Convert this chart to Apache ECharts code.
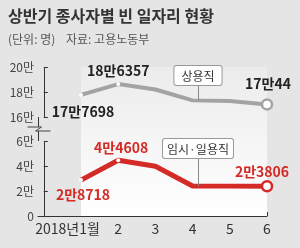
<!DOCTYPE html>
<html>
<head>
<meta charset="utf-8">
<script src="https://cdn.jsdelivr.net/npm/echarts@6/dist/echarts.min.js"></script>
<style>
  html, body { margin: 0; padding: 0; background: #e5e5e5; }
  #main { width: 300px; height: 248px; }
</style>
</head>
<body>
<div id="main"></div>
<script>
const months = [1, 2, 3, 4, 5, 6]
const monthLabels = ['2018년1월', '2', '3', '4', '5', '6']
// 상용직
const regular = [177698, 186357, 182000, 173300, 172800, 170044]
// 임시·일용직
const temporary = [28718, 44608, 39800, 24000, 23900, 23806]
const yTicks = [0, 20000, 40000, 60000, 160000, 180000, 200000]
const breakRange = [60000, 160000]

const GRAY = '#a3a3a3'
const RED = '#d42b27'
const NARROW = "'Liberation Sans Narrow', 'Noto Sans CJK KR', sans-serif"
const KR = "'Noto Sans CJK KR', sans-serif"

const fmtMan = v => (v === 0 ? '0' : v / 10000 + '만')

// labels: index -> offset from the point
const regularLabels = { 0: [2, 17], 1: [0, -13], 5: [1, -21] }
const temporaryLabels = { 0: [2, 15], 1: [3, -13], 5: [-5, -15] }

function buildData(values, color, labels) {
  return values.map((v, i) => {
    const item = { value: [months[i], v] }
    if (i === values.length - 1) {
      item.symbolSize = 10
      item.itemStyle = { color: '#fff', borderColor: color, borderWidth: 2.5 }
    } else if (i < 2) {
      item.symbolSize = 4
      item.itemStyle = { color: '#fff', borderWidth: 0 }
    } else {
      item.symbolSize = 0
    }
    if (labels[i]) {
      item.label = {
        show: true,
        position: 'inside',
        offset: labels[i],
        formatter: () => fmtMan(Math.floor(v / 10000) * 10000) + (v % 10000),
        color: color === RED ? RED : '#222',
        fontFamily: NARROW,
        fontWeight: 'bold',
        fontSize: 14
      }
    }
    return item
  })
}

const boxLabel = {
  show: true,
  position: 'end',
  distance: 0,
  color: '#333',
  fontSize: 12,
  fontFamily: KR,
  backgroundColor: '#fff',
  borderColor: '#999',
  borderWidth: 1,
  borderRadius: 2
}

const chart = echarts.init(document.getElementById('main'))
chart.setOption({
  backgroundColor: '#e5e5e5',
  animation: false,
  title: {
    text: '상반기 종사자별 빈 일자리 현황',
    subtext: '(단위: 명)    자료: 고용노동부',
    left: 8,
    top: 8,
    itemGap: 9,
    textStyle: { fontSize: 16, fontWeight: 'bold', color: '#333', fontFamily: KR },
    subtextStyle: { fontSize: 12, color: '#555', fontFamily: KR },
    padding: 0
  },
  grid: { left: 38, right: 33, top: 67, bottom: 32, outerBoundsMode: 'none' },
  xAxis: {
    type: 'value',
    min: -0.156,
    max: 6,
    splitLine: { show: false },
    axisLine: { lineStyle: { color: '#333', width: 1 } },
    axisTick: { inside: true, length: 4, customValues: months, lineStyle: { color: '#333' } },
    axisLabel: {
      customValues: months,
      margin: 6,
      color: '#333',
      fontSize: 14,
      fontFamily: NARROW,
      formatter: v => (v === 1 ? '{a|' + monthLabels[0] + '}{s|}' : monthLabels[v - 1]),
      rich: { a: { fontSize: 14, fontFamily: NARROW, color: '#333' }, s: { width: 27 } }
    }
  },
  yAxis: {
    type: 'value',
    min: 0,
    max: 200000,
    splitLine: { show: false },
    axisLine: { show: true, lineStyle: { color: '#333', width: 1 } },
    axisTick: { show: true, inside: true, length: 4, customValues: yTicks, lineStyle: { color: '#333' } },
    axisLabel: { customValues: yTicks, margin: 4, color: '#444', fontSize: 12, fontFamily: NARROW, formatter: fmtMan },
    breaks: [{ start: breakRange[0], end: breakRange[1], gap: 19200 }],
    breakArea: { show: false }
  },
  series: [
    {
      type: 'line',
      data: [],
      z: 1,
      silent: true,
      markArea: {
        silent: true,
        itemStyle: {
          color: new echarts.graphic.LinearGradient(0, 0, 0, 1, [
            { offset: 0, color: 'rgba(255,255,255,0.25)' },
            { offset: 1, color: '#ffffff' }
          ])
        },
        data: [[{ coord: [1, 0] }, { coord: [6, 200000] }]]
      }
    },
    {
      name: '상용직',
      type: 'line',
      z: 3,
      symbol: 'circle',
      showAllSymbol: true,
      data: buildData(regular, GRAY, regularLabels),
      lineStyle: { color: GRAY, width: 4 },
      markLine: {
        silent: true,
        symbol: ['none', 'none'],
        lineStyle: { color: '#888', width: 1, type: 'solid' },
        label: Object.assign({}, boxLabel, { formatter: '상용직', padding: [4, 7, 3, 7] }),
        data: [[{ coord: [4.145, 173200] }, { coord: [4.145, 185600] }]]
      }
    },
    {
      name: '임시·일용직',
      type: 'line',
      z: 3,
      symbol: 'circle',
      showAllSymbol: true,
      data: buildData(temporary, RED, temporaryLabels),
      lineStyle: { color: RED, width: 5 },
      markLine: {
        silent: true,
        symbol: ['none', 'none'],
        lineStyle: { color: '#888', width: 1, type: 'solid' },
        label: Object.assign({}, boxLabel, { formatter: '임시·일용직', padding: [4, 4, 3, 4] }),
        data: [[{ coord: [4.145, 24000] }, { coord: [4.145, 46400] }]]
      }
    }
  ]
})

// zigzag break mark on the y axis, placed from the axis scale
const lo = chart.convertToPixel({ gridIndex: 0 }, [-0.156, breakRange[0]])
const hi = chart.convertToPixel({ gridIndex: 0 }, [-0.156, breakRange[1]])
const ax = Math.round(lo[0]) + 0.5
const ay = Math.round((lo[1] + hi[1]) / 2)
chart.setOption({
  graphic: [
    {
      type: 'polyline',
      z: 10,
      shape: { points: [[ax, hi[1]], [ax, ay - 2]] },
      style: { stroke: '#333', lineWidth: 1, fill: null }
    },
    {
      type: 'polyline',
      z: 10,
      shape: { points: [[ax, ay + 2], [ax, lo[1]]] },
      style: { stroke: '#333', lineWidth: 1, fill: null }
    },
    {
      type: 'polyline',
      z: 10,
      shape: { points: [[ax - 11, ay - 2], [ax + 3, ay - 2], [ax - 3, ay + 2], [ax + 12, ay + 2]] },
      style: { stroke: '#444', lineWidth: 1, fill: null }
    }
  ]
})
</script>
</body>
</html>
